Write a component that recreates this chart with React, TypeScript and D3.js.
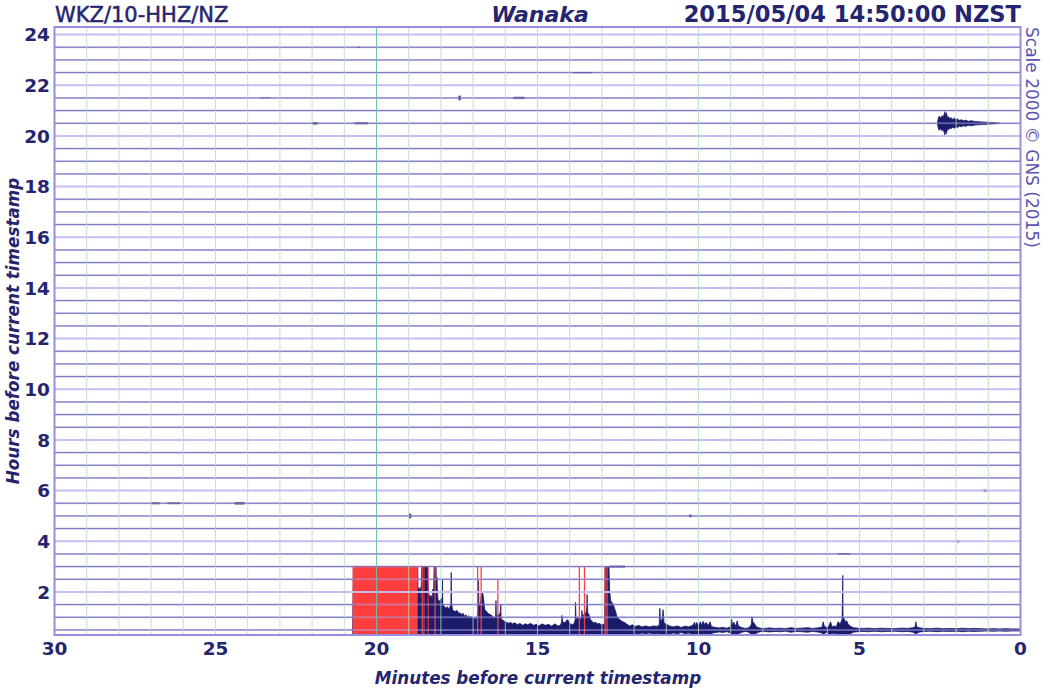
import React from "react";
import * as d3 from "d3";

// ---- labels ----
const stationLabel = "WKZ/10-HHZ/NZ";
const placeLabel = "Wanaka";
const timeLabel = "2015/05/04 14:50:00 NZST";
const scaleLabel = "Scale 2000 © GNS (2015)";
const xTitle = "Minutes before current timestamp";
const yTitle = "Hours before current timestamp";
const xTicks = [30, 25, 20, 15, 10, 5, 0];
const yTicks = [2, 4, 6, 8, 10, 12, 14, 16, 18, 20, 22, 24];

// ---- bottom row (0.5 h) trace envelope: minutes before, amplitude in hours ----
const clipAmp = 2.5;
const bottomRow = 0.5;
const bottomMin = [
  20.74, 20.72, 18.72, 18.71, 18.66, 18.64, 18.62, 18.60, 18.41, 18.39, 18.37, 18.33, 18.30, 18.26, 18.25, 18.23,
  18.21, 18.15, 18.14, 18.12, 18.11, 18.09, 18.05, 18.02, 17.98, 17.96, 17.95, 17.94, 17.91, 17.88, 17.84, 17.80,
  17.76, 17.72, 17.69, 17.68, 17.67, 17.64, 17.60, 17.56, 17.52, 17.48, 17.44, 17.40, 17.35, 17.31, 17.27, 17.22,
  17.18, 17.13, 17.08, 17.04, 16.99, 16.94, 16.90, 16.87, 16.83, 16.82, 16.80, 16.77, 16.74, 16.73, 16.70, 16.67,
  16.64, 16.60, 16.56, 16.52, 16.48, 16.44, 16.40, 16.36, 16.32, 16.30, 16.29, 16.28, 16.25, 16.20, 16.15, 16.14,
  16.13, 16.08, 16.02, 15.96, 15.90, 15.84, 15.78, 15.70, 15.62, 15.55, 15.46, 15.38, 15.30, 15.22, 15.12, 15.04,
  14.95, 14.86, 14.76, 14.66, 14.56, 14.46, 14.36, 14.28, 14.25, 14.24, 14.22, 14.15, 14.08, 14.05, 14.02, 13.98,
  13.92, 13.86, 13.83, 13.82, 13.80, 13.74, 13.66, 13.63, 13.62, 13.60, 13.56, 13.49, 13.47, 13.46, 13.44, 13.40,
  13.36, 13.31, 13.26, 13.20, 13.14, 13.08, 13.02, 12.96, 12.92, 12.90, 12.78, 12.76, 12.73, 12.70, 12.66, 12.62,
  12.58, 12.53, 12.48, 12.42, 12.35, 12.28, 12.22, 12.14, 12.05, 11.96, 11.86, 11.76, 11.64, 11.52, 11.40, 11.30,
  11.22, 11.20, 11.18, 11.13, 11.10, 11.07, 11.00, 10.90, 10.78, 10.66, 10.54, 10.42, 10.30, 10.18, 10.12, 10.10,
  10.06, 10.00, 9.94, 9.90, 9.86, 9.80, 9.76, 9.70, 9.64, 9.60, 9.55, 9.46, 9.36, 9.24, 9.12, 9.00,
  8.97, 8.94, 8.90, 8.84, 8.80, 8.76, 8.71, 8.62, 8.52, 8.42, 8.36, 8.34, 8.31, 8.27, 8.20, 8.08,
  7.94, 7.80, 7.62, 7.46, 7.30, 7.14, 6.96, 6.80, 6.62, 6.46, 6.30, 6.16, 6.13, 6.09, 6.02, 5.96,
  5.90, 5.85, 5.78, 5.72, 5.67, 5.60, 5.54, 5.53, 5.52, 5.51, 5.48, 5.44, 5.40, 5.35, 5.29, 5.20,
  5.06, 4.90, 4.72, 4.52, 4.34, 4.12, 3.92, 3.70, 3.50, 3.33, 3.27, 3.25, 3.22, 3.15, 3.00, 2.80,
  2.60, 2.40, 2.20, 1.98, 1.80, 1.62, 1.44, 1.24, 1.04, 0.84, 0.66, 0.46, 0.26, 0.0,
];
const bottomAmp = [
  0.0, 2.5, 2.5, 1.68, 1.6, 1.68, 1.2, 2.5, 2.5, 1.5, 1.4, 1.32, 1.36, 1.2, 1.61, 1.3,
  2.5, 2.5, 1.76, 2.07, 1.6, 1.2, 1.12, 1.18, 1.25, 1.1, 1.99, 1.0, 0.95, 0.9, 0.86, 0.92,
  0.84, 0.9, 1.05, 2.27, 1.1, 0.8, 0.76, 0.72, 0.78, 0.74, 0.64, 0.68, 0.6, 0.66, 0.54, 0.6,
  0.5, 0.56, 0.48, 0.52, 0.44, 0.46, 0.42, 0.52, 1.95, 1.1, 0.9, 1.05, 1.48, 1.42, 1.45, 1.2,
  0.82, 0.74, 0.7, 0.64, 0.62, 0.58, 0.55, 0.5, 0.47, 0.52, 1.16, 0.6, 0.55, 0.58, 0.7, 1.0,
  0.45, 0.38, 0.34, 0.3, 0.26, 0.3, 0.24, 0.28, 0.2, 0.26, 0.18, 0.24, 0.2, 0.26, 0.18, 0.22,
  0.16, 0.24, 0.18, 0.22, 0.15, 0.24, 0.15, 0.2, 0.32, 0.57, 0.32, 0.28, 0.4, 0.38, 0.3, 0.24,
  0.2, 0.26, 0.4, 1.09, 0.42, 0.48, 0.42, 0.52, 0.77, 0.52, 0.6, 0.7, 0.9, 1.4, 0.69, 0.6,
  0.42, 0.34, 0.28, 0.3, 0.24, 0.26, 0.2, 0.22, 0.24, 2.5, 2.5, 1.6, 1.16, 1.1, 1.05, 0.9,
  0.75, 0.52, 0.44, 0.38, 0.32, 0.28, 0.22, 0.16, 0.2, 0.14, 0.18, 0.12, 0.16, 0.12, 0.16, 0.14,
  0.18, 0.85, 0.32, 0.42, 0.8, 0.28, 0.22, 0.16, 0.12, 0.16, 0.1, 0.15, 0.12, 0.18, 0.3, 0.14,
  0.3, 0.14, 0.32, 0.17, 0.34, 0.2, 0.3, 0.17, 0.32, 0.14, 0.12, 0.1, 0.08, 0.1, 0.07, 0.12,
  0.42, 0.17, 0.3, 0.14, 0.36, 0.16, 0.12, 0.08, 0.06, 0.1, 0.22, 0.52, 0.32, 0.26, 0.12, 0.07,
  0.06, 0.08, 0.06, 0.07, 0.05, 0.09, 0.06, 0.07, 0.09, 0.06, 0.08, 0.12, 0.32, 0.14, 0.1, 0.14,
  0.32, 0.12, 0.16, 0.12, 0.32, 0.24, 0.42, 1.2, 2.15, 0.5, 0.45, 0.32, 0.36, 0.22, 0.16, 0.09,
  0.07, 0.06, 0.07, 0.05, 0.07, 0.06, 0.05, 0.07, 0.06, 0.09, 0.14, 0.32, 0.12, 0.09, 0.06, 0.05,
  0.07, 0.05, 0.06, 0.05, 0.07, 0.05, 0.06, 0.05, 0.04, 0.05, 0.04, 0.05, 0.04, 0.04,
];

// clipped (red) spans on the bottom row: start minute, end minute, amplitude
const redStart = [20.74, 18.60, 18.54, 18.41, 18.20, 16.88, 16.77, 16.25, 13.72, 13.56, 12.92, 12.86];
const redEnd = [18.72, 18.56, 18.51, 18.38, 18.16, 16.84, 16.73, 16.21, 13.68, 13.52, 12.88, 12.82];
const redAmp = [2.5, 2.5, 2.5, 2.5, 2.5, 2.5, 2.5, 1.99, 2.5, 2.5, 2.5, 2.5];

// ---- event on the 20.5 h row ----
const eventRow = 20.5;
const eventMin = [2.58, 2.55, 2.52, 2.48, 2.44, 2.40, 2.37, 2.35, 2.33, 2.30, 2.27, 2.23, 2.19, 2.15, 2.10, 2.05, 2.00, 1.95, 1.90, 1.84, 1.78, 1.70, 1.62, 1.52, 1.42, 1.30, 1.18, 1.04, 0.90, 0.78, 0.64];
const eventAmp = [0.0, 0.22, 0.28, 0.2, 0.3, 0.25, 0.36, 0.46, 0.3, 0.42, 0.22, 0.26, 0.18, 0.22, 0.15, 0.2, 0.14, 0.17, 0.11, 0.14, 0.1, 0.12, 0.08, 0.1, 0.07, 0.06, 0.05, 0.04, 0.03, 0.02, 0.0];

// ---- small blips on other rows ----
const blipRow = [23.5, 22.5, 21.5, 21.5, 21.5, 20.5, 20.5, 5.5, 5.5, 5.5, 5, 5, 6, 4, 3.5, 3, 2, 2];
const blipStart = [20.6, 13.9, 17.46, 15.75, 23.6, 22.0, 20.68, 27.0, 26.5, 24.4, 19.0, 10.3, 1.15, 1.98, 5.67, 12.76, 22.55, 28.35];
const blipEnd = [20.5, 13.3, 17.38, 15.4, 23.3, 21.83, 20.27, 26.74, 26.1, 24.1, 18.92, 10.2, 1.05, 1.9, 5.29, 12.28, 22.45, 28.28];
const blipAmp = [0.02, 0.025, 0.09, 0.045, 0.02, 0.05, 0.04, 0.04, 0.035, 0.05, 0.09, 0.05, 0.05, 0.05, 0.03, 0.04, 0.04, 0.03];

const W = 1050;
const H = 691;
const L = 54.5;
const R = 1020.5;
const T = 27;
const B = 635;

const navy = "#1b1b6b";
const textNavy = "#25256f";
const red = "#ff3d3d";

export default function App() {
  const x = d3.scaleLinear().domain([30, 0]).range([L, R]);
  const y = d3.scaleLinear().domain([0.3, 24.3]).range([B, T]);

  const rows = d3.range(0.5, 24.01, 0.5);
  const minuteLines = d3.range(1, 30, 1);

  const bottomData = bottomMin.map((m, i) => ({ m, a: Math.min(bottomAmp[i], clipAmp) }));
  const bottomArea = d3
    .area<{ m: number; a: number }>()
    .x((d) => x(d.m))
    .y0((d) => y(bottomRow - d.a))
    .y1((d) => y(bottomRow + d.a));

  const eventData = eventMin.map((m, i) => ({ m, a: eventAmp[i] }));
  const eventArea = d3
    .area<{ m: number; a: number }>()
    .x((d) => x(d.m))
    .y0((d) => y(eventRow - d.a))
    .y1((d) => y(eventRow + d.a));

  const font = "'DejaVu Sans', Verdana, sans-serif";

  return (
    <svg
      width={W}
      height={H}
      style={{ position: "absolute", left: 0, top: 0, background: "#fff" }}
      fontFamily={font}
    >
      <defs>
        <clipPath id="plotClip">
          <rect x={L} y={T} width={R - L} height={B - T} />
        </clipPath>
      </defs>
      <rect x={0} y={0} width={W} height={H} fill="#fff" />

      <g clipPath="url(#plotClip)">
        {/* trace baselines */}
        {rows.map((r) => (
          <line
            key={"t" + r}
            x1={L}
            x2={R}
            y1={y(r)}
            y2={y(r)}
            stroke={r % 2 === 0 ? "#9c96d8" : "#34318a"}
            strokeWidth={1}
            opacity={r % 2 === 0 ? 0.5 : 0.9}
          />
        ))}

        {/* blips */}
        {blipRow.map((r, i) => (
          <rect
            key={"b" + i}
            x={x(blipStart[i])}
            width={Math.max(1, x(blipEnd[i]) - x(blipStart[i]))}
            y={y(r + blipAmp[i])}
            height={y(r - blipAmp[i]) - y(r + blipAmp[i])}
            fill={navy}
            opacity={0.8}
          />
        ))}

        {/* event */}
        <path d={eventArea(eventData) || ""} fill={navy} stroke={navy} strokeWidth={0.8} />

        {/* bottom row */}
        <path d={bottomArea(bottomData) || ""} fill={navy} stroke={navy} strokeWidth={0.8} />
        {redStart.map((s, i) => (
          <rect
            key={"r" + i}
            x={x(s)}
            width={x(redEnd[i]) - x(s)}
            y={y(bottomRow + redAmp[i])}
            height={y(bottomRow - redAmp[i]) - y(bottomRow + redAmp[i])}
            fill={red}
          />
        ))}

        {/* horizontal grid */}
        {rows.map((r) => (
          <line
            key={"h" + r}
            x1={L}
            x2={R}
            y1={y(r)}
            y2={y(r)}
            stroke={r % 2 === 0 ? "#c3bdf3" : "#a7a0e6"}
            strokeWidth={2}
            opacity={r % 2 === 0 ? 0.95 : 0.5}
          />
        ))}

        {/* vertical grid */}
        {minuteLines.map((m) => (
          <line
            key={"v" + m}
            x1={x(m)}
            x2={x(m)}
            y1={T}
            y2={B}
            stroke={m === 20 ? "#6fbfa6" : "#b6dcb6"}
            strokeWidth={1}
            opacity={m === 20 ? 0.95 : 0.8}
          />
        ))}
      </g>

      {/* frame */}
      <rect x={L} y={T} width={R - L} height={B - T} fill="none" stroke="#978de0" strokeWidth={2} />

      {/* titles */}
      <text x={55} y={22} fontSize={21} fill={textNavy} stroke={textNavy} strokeWidth={0.5}>
        {stationLabel}
      </text>
      <text x={540} y={22} fontSize={22} fontWeight="bold" fontStyle="italic" textAnchor="middle" fill={textNavy}>
        {placeLabel}
      </text>
      <text x={1021} y={22} fontSize={22.6} fontWeight="bold" textAnchor="end" fill={textNavy}>
        {timeLabel}
      </text>

      {/* y ticks */}
      {yTicks.map((t) => (
        <text
          key={"yt" + t}
          x={50}
          y={y(t)}
          dy="0.36em"
          fontSize={18.5}
          fontWeight="bold"
          textAnchor="end"
          fill={textNavy}
        >
          {t}
        </text>
      ))}

      {/* x ticks */}
      {xTicks.map((t) => (
        <text
          key={"xt" + t}
          x={x(t)}
          y={648}
          dy="0.36em"
          fontSize={18.5}
          fontWeight="bold"
          textAnchor="middle"
          fill={textNavy}
        >
          {t}
        </text>
      ))}

      {/* axis titles */}
      <text x={538} y={684} fontSize={16.8} fontWeight="bold" fontStyle="italic" textAnchor="middle" fill={textNavy}>
        {xTitle}
      </text>
      <text
        transform={`translate(19, ${331}) rotate(-90)`}
        fontSize={16.8}
        fontWeight="bold"
        fontStyle="italic"
        textAnchor="middle"
        fill={textNavy}
      >
        {yTitle}
      </text>
      <text transform={`translate(1026, 27) rotate(90)`} fontSize={17} fill="#5a54b2">
        {scaleLabel}
      </text>
    </svg>
  );
}
